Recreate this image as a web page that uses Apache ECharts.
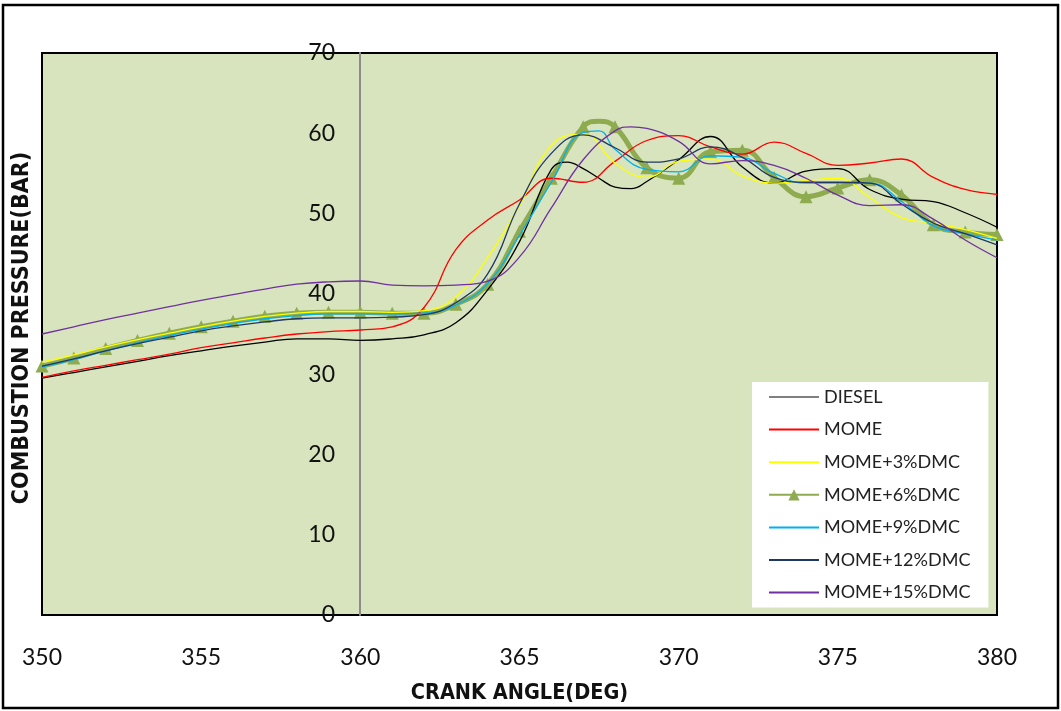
<!DOCTYPE html>
<html>
<head>
<meta charset="utf-8">
<script src="https://cdn.jsdelivr.net/npm/echarts@6/dist/echarts.min.js"></script>
<style>
html,body{margin:0;padding:0;background:#fff;}
#c{width:1061px;height:711px;}
</style>
</head>
<body>
<div id="c"></div>
<script>
// Crank angle (deg)
const angles = [350,351,352,353,354,355,356,357,358,359,360,361,362,363,364,365,366,367,368,369,370,371,372,373,374,375,376,377,378,379,380];
// Combustion pressure (bar), read at each whole degree
const diesel = [29.5,30.2,30.9,31.6,32.3,32.9,33.5,34.0,34.4,34.4,34.2,34.4,34.9,36.4,40.5,46.5,55.5,55.6,53.3,54.0,56.7,59.6,55.8,53.8,55.3,55.6,53.0,51.8,51.5,50.1,48.3];
const mome = [29.6,30.4,31.1,31.8,32.5,33.3,33.9,34.5,35.0,35.3,35.5,35.9,38.3,45.5,49.2,51.7,54.4,53.9,56.5,59.1,59.7,58.3,57.4,58.9,57.5,56.0,56.3,56.8,54.5,53.0,52.4];
const dmc3 = [31.5,32.4,33.4,34.3,35.1,35.9,36.6,37.2,37.6,37.8,37.8,37.7,37.9,39.6,44.5,51.0,58.5,59.9,56.3,54.5,56.5,56.8,54.7,53.8,54.1,54.4,52.0,49.5,48.8,48.0,46.9];
const dmc6 = [31.0,32.0,33.2,34.2,35.1,35.9,36.6,37.2,37.6,37.7,37.7,37.6,37.6,38.7,41.2,47.8,54.4,60.8,60.8,55.7,54.4,57.7,57.9,54.5,52.1,53.2,54.2,52.3,48.6,47.7,47.4];
const dmc9 = [30.9,31.8,32.9,33.9,34.8,35.6,36.3,36.9,37.3,37.5,37.5,37.5,37.6,38.6,41.3,47.3,53.9,60.1,58.0,55.5,55.2,57.2,57.0,55.0,53.8,53.8,53.8,51.5,48.5,47.5,46.7];
const dmc12 = [31.0,31.9,32.9,33.8,34.6,35.4,36.0,36.5,36.9,37.0,37.0,37.1,37.4,38.9,42.5,51.2,57.5,59.8,58.2,56.4,56.8,58.3,57.0,54.5,53.9,53.9,53.8,51.2,48.8,47.5,46.1];
const dmc15 = [35.0,35.9,36.8,37.6,38.4,39.2,39.9,40.6,41.2,41.5,41.6,41.1,41.0,41.1,41.6,44.6,50.7,56.7,60.3,60.6,59.0,56.2,56.6,56.0,54.4,52.3,51.0,51.1,49.3,46.7,44.5];
// Extra readings between whole degrees where a curve peaks or dips: [angle, bar]
const dieselExtra = [[366.5,56.4],[367.5,54.4],[368.5,53.1]];
const dmc6Extra = [[367.5,61.5]];
const dmc9Extra = [[367.5,60.3]];
const dmc15Extra = [[368.5,60.8]];
const xTicks = {min:350, max:380, interval:5};
const yTicks = {min:0, max:70, interval:10};

function pair(arr, extra){
  const pts = angles.map((a,i)=>({value:[a, arr[i]]}));
  (extra||[]).forEach(p=>pts.push({value:p, symbol:'none'}));
  pts.sort((p,q)=>p.value[0]-q.value[0]);
  return pts;
}
const font = 'Lato, "Liberation Sans", sans-serif';
const boldFont = '"DejaVu Sans Condensed", "Liberation Sans", sans-serif';

function thin(name, data, extra, color){
  return {name, type:'line', data:pair(data, extra), smooth:0.45, symbol:'none',
    lineStyle:{color, width:1.3}, itemStyle:{color}, z:3};
}
const hideSym = {opacity:0};

const chart = echarts.init(document.getElementById('c'), null, {renderer:'canvas'});
chart.setOption({
  animation:false,
  backgroundColor:'#fff',
  grid:{left:42, right:64, top:53, bottom:96, show:true, outerBoundsMode:'none', containLabel:false,
    backgroundColor:'#d7e4bd', borderColor:'#000', borderWidth:2},
  xAxis:{type:'value', min:xTicks.min, max:xTicks.max, interval:xTicks.interval,
    axisLine:{show:false}, axisTick:{show:false}, splitLine:{show:false},
    axisLabel:{fontSize:23, color:'#111', fontFamily:font, margin:31},
    name:'CRANK ANGLE(DEG)', nameLocation:'middle', nameGap:67,
    nameTextStyle:{fontSize:21.5, fontWeight:'bold', color:'#111', fontFamily:boldFont}},
  yAxis:{type:'value', min:yTicks.min, max:yTicks.max, interval:yTicks.interval, offset:-318,
    axisLine:{show:true, lineStyle:{color:'#8c8c8c', width:2}}, axisTick:{show:false}, splitLine:{show:false},
    axisLabel:{fontSize:23, color:'#111', fontFamily:font, margin:25}},
  legend:{orient:'vertical', left:752, top:382, backgroundColor:'#fff',
    padding:[5,18,5,16], itemWidth:50, itemHeight:14, itemGap:12.6,
    textStyle:{fontSize:18, color:'#222', fontFamily:font, lineHeight:20},
    data:[
      {name:'DIESEL', lineStyle:{color:'#808080'}, itemStyle:hideSym},
      {name:'MOME', itemStyle:hideSym},
      {name:'MOME+3%DMC', itemStyle:hideSym},
      {name:'MOME+6%DMC'},
      {name:'MOME+9%DMC', itemStyle:hideSym},
      {name:'MOME+12%DMC', itemStyle:hideSym},
      {name:'MOME+15%DMC', itemStyle:hideSym}]},
  graphic:[
    {type:'rect', shape:{x:3, y:5, width:1055, height:703}, style:{fill:null, stroke:'#000', lineWidth:2.5}, z:100},
    {type:'text', x:22, y:328, rotation:Math.PI/2, style:{text:'COMBUSTION PRESSURE(BAR)', fontSize:23, fontWeight:'bold', fill:'#111', fontFamily:boldFont, textAlign:'center', textVerticalAlign:'middle'}}
  ],
  series:[
    thin('DIESEL', diesel, dieselExtra, '#000000'),
    thin('MOME', mome, null, '#ff0000'),
    thin('MOME+3%DMC', dmc3, null, '#ffff00'),
    {name:'MOME+6%DMC', type:'line', data:pair(dmc6, dmc6Extra), smooth:0.45, symbol:'triangle', symbolSize:13,
      lineStyle:{color:'#8eab50', width:5}, itemStyle:{color:'#8eab50'}, z:2},
    thin('MOME+9%DMC', dmc9, dmc9Extra, '#00b0f0'),
    thin('MOME+12%DMC', dmc12, null, '#1f3864'),
    thin('MOME+15%DMC', dmc15, dmc15Extra, '#7030a0')
  ]
});
</script>
</body>
</html>
